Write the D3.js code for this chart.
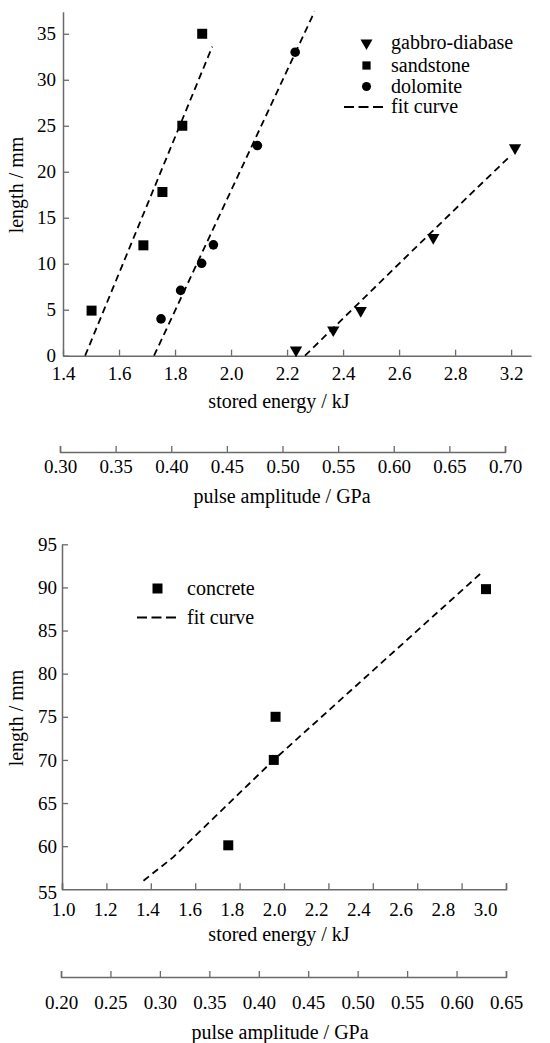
<!DOCTYPE html>
<html>
<head>
<meta charset="utf-8">
<script src="https://cdn.jsdelivr.net/npm/d3@7"></script>
<style>
  body { margin: 0; background: #fff; }
  svg text { font-family: "Liberation Serif", "LiberationSerif", "Times New Roman", Times, Tinos, "DejaVu Serif", serif; fill: #000; }
</style>
</head>
<body>
<script>
// ---- top chart data ----
var topXTicks  = [1.4, 1.6, 1.8, 2.0, 2.2, 2.4, 2.6, 2.8, 3.0];
var topXLabels = ["1.4", "1.6", "1.8", "2.0", "2.2", "2.4", "2.6", "2.8", "3.2"];
var topYTicks  = [0, 5, 10, 15, 20, 25, 30, 35];
var topPulseTicks = [0.30, 0.35, 0.40, 0.45, 0.50, 0.55, 0.60, 0.65, 0.70];

var gabbroX = [2.232, 2.365, 2.463, 2.722, 3.014];
var gabbroY = [0.6, 2.8, 4.9, 12.85, 22.6];
var sandstoneX = [1.502, 1.687, 1.755, 1.826, 1.897];
var sandstoneY = [4.9, 12.0, 17.8, 25.0, 35.0];
var dolomiteX = [1.750, 1.820, 1.895, 1.937, 2.094, 2.229];
var dolomiteY = [4.0, 7.1, 10.05, 12.05, 22.85, 33.0];

var sandFitX = [1.479, 1.933];
var sandFitY = [0, 33.6];
var doloFitX = [1.725, 2.298];
var doloFitY = [0, 37.4];
var gabbroFitX = [2.264, 2.61, 2.87, 3.0];
var gabbroFitY = [0, 10.3, 18.0, 21.8];

var topLegend = ["gabbro-diabase", "sandstone", "dolomite", "fit curve"];

// ---- bottom chart data ----
var botXTicks = [1.0, 1.2, 1.4, 1.6, 1.8, 2.0, 2.2, 2.4, 2.6, 2.8, 3.0];
var botYTicks = [55, 60, 65, 70, 75, 80, 85, 90, 95];
var botPulseTicks = [0.20, 0.25, 0.30, 0.35, 0.40, 0.45, 0.50, 0.55, 0.60, 0.65];

var concreteX = [1.749, 1.954, 1.962, 2.910];
var concreteY = [60.1, 70.0, 75.0, 89.8];
var concFitX = [1.367, 1.50, 1.954, 2.898];
var concFitY = [56.0, 58.7, 70.0, 91.9];

var botLegend = ["concrete", "fit curve"];

var w = 550, h = 1043;
var axisColor = "#6a6a6a";
var serif = '"Liberation Serif", "LiberationSerif", "Times New Roman", Times, Tinos, "DejaVu Serif", serif';

var svg = d3.select("body").append("svg")
    .attr("width", w)
    .attr("height", h);

svg.append("rect").attr("width", w).attr("height", h).attr("fill", "#fff");

function zip(xs, ys) {
  return xs.map(function(d, i) { return [d, ys[i]]; });
}

function styleAxis(g) {
  g.attr("font-family", serif);
  g.select(".domain").attr("stroke", axisColor).attr("stroke-width", 1.5);
  g.selectAll(".tick line").attr("stroke", axisColor).attr("stroke-width", 1.3);
  g.selectAll(".tick text").attr("font-size", "19px").attr("fill", "#000");
}

function label(x, y, txt, rotate) {
  return svg.append("text")
    .attr("transform", "translate(" + x + "," + y + ")" + (rotate ? " rotate(-90)" : ""))
    .attr("text-anchor", "middle").attr("font-size", "20px")
    .attr("font-family", serif).text(txt);
}

// ================= TOP CHART =================
var x1 = d3.scaleLinear().domain([1.4, 3.071]).range([63, 531]);
var y1 = d3.scaleLinear().domain([0, 37.4]).range([355.7, 11.7]);

var gx1 = svg.append("g").attr("transform", "translate(0," + y1(0) + ")")
  .call(d3.axisBottom(x1).tickValues(topXTicks)
    .tickFormat(function(d, i) { return topXLabels[i]; })
    .tickSizeInner(-6).tickSizeOuter(0).tickPadding(11));
styleAxis(gx1);

var gy1 = svg.append("g").attr("transform", "translate(" + x1(1.4) + ",0)")
  .call(d3.axisLeft(y1).tickValues(topYTicks)
    .tickSizeInner(-6).tickSizeOuter(0).tickPadding(7));
styleAxis(gy1);

// secondary pulse axis
var p1 = d3.scaleLinear().domain([0.30, 0.70]).range([60, 505]);
var gp1 = svg.append("g").attr("transform", "translate(0,452)")
  .call(d3.axisBottom(p1).tickValues(topPulseTicks).tickFormat(d3.format(".2f"))
    .tickSizeInner(-6).tickSizeOuter(-6).tickPadding(8));
styleAxis(gp1);

label(279, 408, "stored energy / kJ");
label(282, 503, "pulse amplitude / GPa");
label(23, 185, "length / mm", true);

var line1 = d3.line().x(function(d) { return x1(d[0]); }).y(function(d) { return y1(d[1]); });

[zip(sandFitX, sandFitY), zip(doloFitX, doloFitY), zip(gabbroFitX, gabbroFitY)].forEach(function(pts) {
  svg.append("path").attr("d", line1(pts))
    .attr("fill", "none").attr("stroke", "#000")
    .attr("stroke-width", 1.8).attr("stroke-dasharray", "7,4.5");
});

var triDown = d3.symbol().type(d3.symbolTriangle).size(66);
var sq = d3.symbol().type(d3.symbolSquare).size(100);
var circ = d3.symbol().type(d3.symbolCircle).size(72);

svg.selectAll(".gab").data(zip(gabbroX, gabbroY)).enter().append("path")
  .attr("d", triDown())
  .attr("transform", function(d) { return "translate(" + x1(d[0]) + "," + y1(d[1]) + ") rotate(180)"; })
  .attr("fill", "#000");

svg.selectAll(".sand").data(zip(sandstoneX, sandstoneY)).enter().append("path")
  .attr("d", sq())
  .attr("transform", function(d) { return "translate(" + x1(d[0]) + "," + y1(d[1]) + ")"; })
  .attr("fill", "#000");

svg.selectAll(".dolo").data(zip(dolomiteX, dolomiteY)).enter().append("path")
  .attr("d", circ())
  .attr("transform", function(d) { return "translate(" + x1(d[0]) + "," + y1(d[1]) + ")"; })
  .attr("fill", "#000");

// top legend
var legY = [43, 65.5, 86.5, 107];
var legSyms = [
  d3.symbol().type(d3.symbolTriangle).size(62),
  d3.symbol().type(d3.symbolSquare).size(68),
  d3.symbol().type(d3.symbolCircle).size(64)
];
topLegend.forEach(function(name, i) {
  if (i < 3) {
    svg.append("path").attr("d", legSyms[i]())
      .attr("transform", "translate(366.5," + legY[i] + ")" + (i === 0 ? " rotate(180)" : ""))
      .attr("fill", "#000");
  } else {
    svg.append("line").attr("x1", 344).attr("x2", 383)
      .attr("y1", legY[i]).attr("y2", legY[i])
      .attr("stroke", "#000").attr("stroke-width", 1.8).attr("stroke-dasharray", "10,4.5");
  }
  svg.append("text").attr("x", 391).attr("y", legY[i] + 6)
    .attr("font-size", "20px").attr("font-family", serif).text(name);
});

// ================= BOTTOM CHART =================
var x2 = d3.scaleLinear().domain([1.0, 3.0]).range([62, 506]);
var x2lab = d3.scaleLinear().domain([1.0, 3.0]).range([63, 485]);
var y2 = d3.scaleLinear().domain([55, 95]).range([889.3, 544.3]);

var gx2 = svg.append("g").attr("transform", "translate(0," + y2(55) + ")")
  .call(d3.axisBottom(x2).tickValues(botXTicks).tickFormat(d3.format(".1f"))
    .tickSizeInner(-6).tickSizeOuter(-6).tickPadding(13));
styleAxis(gx2);
// tick labels drift left in the original
gx2.selectAll(".tick text").attr("dx", function(d) { return x2lab(d) - x2(d); });

var gy2 = svg.append("g").attr("transform", "translate(" + x2(1.0) + ",0)")
  .call(d3.axisLeft(y2).tickValues(botYTicks)
    .tickSizeInner(-6).tickSizeOuter(0).tickPadding(5));
styleAxis(gy2);
gy2.selectAll(".tick").filter(function(d) { return d === 55; }).select("line").remove();
gy2.selectAll(".tick").filter(function(d) { return d === 55; }).select("text").attr("dy", "0.5em");

var p2 = d3.scaleLinear().domain([0.20, 0.65]).range([61, 506]);
var gp2 = svg.append("g").attr("transform", "translate(0,977)")
  .call(d3.axisBottom(p2).tickValues(botPulseTicks).tickFormat(d3.format(".2f"))
    .tickSizeInner(-6).tickSizeOuter(-6).tickPadding(19));
styleAxis(gp2);

label(279, 941, "stored energy / kJ");
label(280, 1039, "pulse amplitude / GPa");
label(23, 718, "length / mm", true);

var line2 = d3.line().x(function(d) { return x2(d[0]); }).y(function(d) { return y2(d[1]); });
svg.append("path").attr("d", line2(zip(concFitX, concFitY)))
  .attr("fill", "none").attr("stroke", "#000")
  .attr("stroke-width", 1.8).attr("stroke-dasharray", "7,4.5");

svg.selectAll(".conc").data(zip(concreteX, concreteY)).enter().append("path")
  .attr("d", sq())
  .attr("transform", function(d) { return "translate(" + x2(d[0]) + "," + y2(d[1]) + ")"; })
  .attr("fill", "#000");

// bottom legend
var leg2Y = [588.5, 617.5];
svg.append("path").attr("d", d3.symbol().type(d3.symbolSquare).size(100)())
  .attr("transform", "translate(157.5," + leg2Y[0] + ")").attr("fill", "#000");
svg.append("line").attr("x1", 137).attr("x2", 177)
  .attr("y1", leg2Y[1]).attr("y2", leg2Y[1])
  .attr("stroke", "#000").attr("stroke-width", 1.8).attr("stroke-dasharray", "10,4.5");
botLegend.forEach(function(name, i) {
  svg.append("text").attr("x", 187).attr("y", leg2Y[i] + 6)
    .attr("font-size", "20px").attr("font-family", serif).text(name);
});
</script>
</body>
</html>
